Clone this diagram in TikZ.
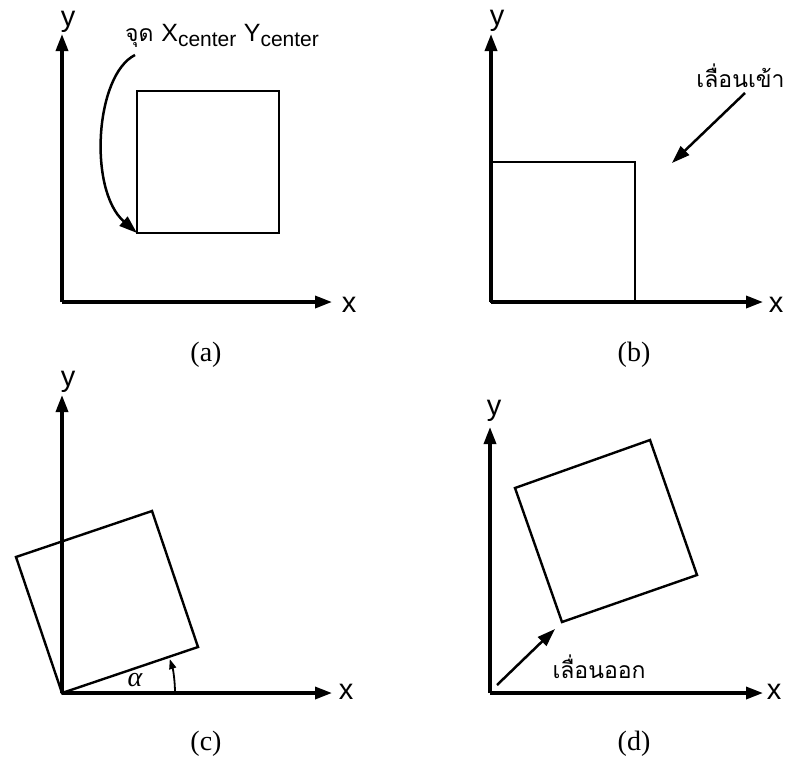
\documentclass[tikz,border=0pt]{standalone}
\usepackage{fontspec}
\setmainfont{Liberation Serif}
\newfontfamily\axisfont{Liberation Sans}
\newfontfamily\thaifont[Script=Thai]{Loma}
\usetikzlibrary{arrows.meta,calc}
\tikzset{
  axis/.style={line width=3.4pt,-{Triangle[length=17pt,width=12pt]}},
  box/.style={line width=2.4pt,line join=miter},
  pointer/.style={line width=2.5pt,-{Triangle[length=18pt,width=12pt]}},
  axlabel/.style={font=\axisfont\fontsize{29}{29}\selectfont},
  thailabel/.style={font=\thaifont\fontsize{23}{23}\selectfont},
  caption/.style={font=\fontsize{28}{28}\selectfont},
}
\begin{document}
\begin{tikzpicture}[x=1pt,y=-1pt]
    \useasboundingbox (0,0) rectangle (791,758);
    % (a)
    \coordinate (oa) at (62,302);
    \node[axlabel] (ya) at (68,22) {y};
    \node[axlabel] (xa) at (349,305) {x};
    \draw[axis] (oa) -- (62,34);
    \draw[axis] (oa) -- (332,302);
    \draw[box] (137,91) rectangle (279,233);
    \coordinate (corner) at (137,233);
    \node[anchor=base west,inner sep=0pt] (ctr) at (125,41)
      {\thaifont\fontsize{23}{23}\selectfont จุด\ \axisfont\fontsize{25}{25}\selectfont X\textsubscript{\fontsize{21}{21}\selectfont center} Y\textsubscript{\fontsize{21}{21}\selectfont center}};
    \coordinate (ctrs) at (135,55);
    \draw[pointer] (ctrs) .. controls (95,75) and (88,190) .. (corner);
    \node[caption] (capa) at (206,355) {(a)};
    % (b)
    \coordinate (ob) at (491,302);
    \node[axlabel] (yb) at (497,21) {y};
    \node[axlabel] (xb) at (776,305) {x};
    \draw[axis] (ob) -- (491,34);
    \draw[axis] (ob) -- (763,302);
    \draw[box] (491,162) rectangle (635,302);
    \node[thailabel,anchor=east] (movein) at (788,76) {เลื่อนเข้า};
    \coordinate (ins) at (745,93);
    \coordinate (ine) at (672,163);
    \draw[pointer] (ins) -- (ine);
    \node[caption] (capb) at (634,355) {(b)};
    % (c)
    \coordinate (oc) at (62,693);
    \node[axlabel] (yc) at (68,382) {y};
    \node[axlabel] (xc) at (346,692) {x};
    \draw[axis] (oc) -- (62,395);
    \draw[axis] (oc) -- (332,693);
    \draw[box] (oc) -- (198,647) -- (152,511) -- (16,557) -- cycle;
    \node[font=\itshape\fontsize{28}{28}\selectfont] (alpha) at (135,680) {α};
    \draw[line width=1.8pt,-{Triangle[length=10pt,width=7pt]}] ($(oc)+(113,0)$) arc[start angle=0,end angle=-17.5,radius=113];
    \node[caption] (capc) at (206,744) {(c)};
    % (d)
    \coordinate (od) at (490,693);
    \node[axlabel] (yd) at (494,411) {y};
    \node[axlabel] (xd) at (774,692) {x};
    \draw[axis] (od) -- (490,427);
    \draw[axis] (od) -- (763,693);
    \draw[box] (562,622) -- (697,575) -- (650,440) -- (515,488) -- cycle;
    \node[thailabel,anchor=west] (moveout) at (549,667) {เลื่อนออก};
    \coordinate (outs) at (497,685);
    \coordinate (oute) at (555,629);
    \draw[pointer] (outs) -- (oute);
    \node[caption] (capd) at (634,744) {(d)};
\end{tikzpicture}
\end{document}
